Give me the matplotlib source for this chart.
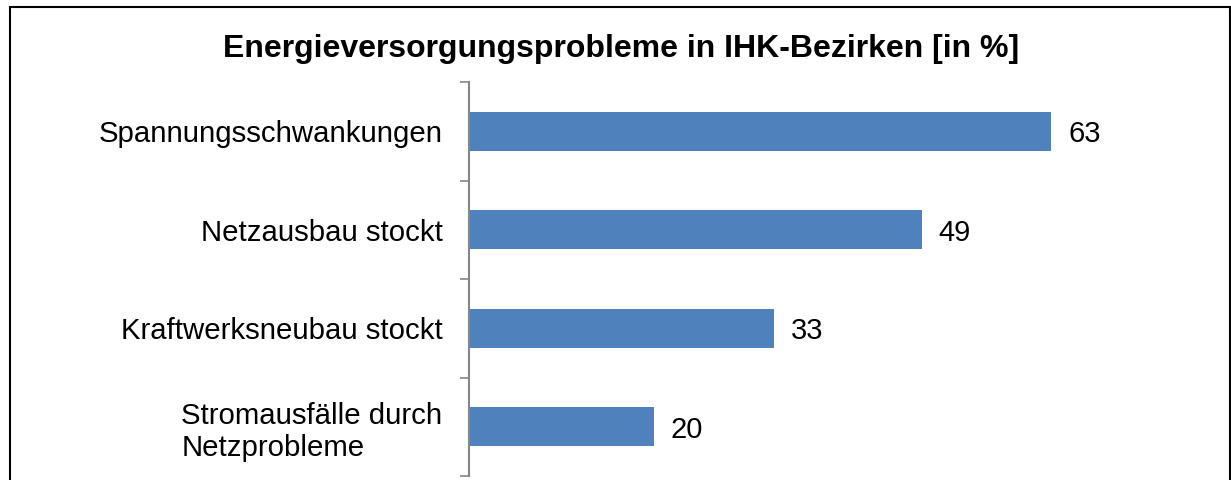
import numpy as np
import matplotlib
matplotlib.use("Agg")
import matplotlib.pyplot as plt
from matplotlib.patches import Rectangle

# data (top to bottom)
categories = ["Spannungsschwankungen", "Netzausbau stockt",
              "Kraftwerksneubau stockt", "Stromausfälle durch\nNetzprobleme"]
values = [63, 49, 33, 20]
title = "Energieversorgungsprobleme in IHK-Bezirken [in %]"

bar_color = "#4F81BD"
axis_color = "#868686"

plt.rcParams['font.family'] = ['Liberation Sans', 'DejaVu Sans']

fig = plt.figure(figsize=(12.31, 4.80), dpi=100)
W, H = 1231, 480

# axes placed in pixel coordinates of the reference
x0, x1 = 469, 469 + 70 * 9.24
y_top, y_bot = 82, 476
ax = fig.add_axes([x0 / W, (H - y_bot) / H, (x1 - x0) / W, (y_bot - y_top) / H])

pos = np.arange(len(categories))
ax.barh(pos, values, height=0.4, color=bar_color, zorder=2)
ax.set_xlim(0, 70)
ax.set_ylim(len(categories) - 0.5, -0.5)

for p, v in zip(pos, values):
    ax.text(v + 1.85, p, str(v), va='center_baseline', ha='left', fontsize=21)

# tick marks between categories, labels at the centers
ax.set_yticks(np.arange(-0.5, len(categories)), labels=[])
ax.set_yticks(pos, labels=categories, minor=True)
ax.tick_params(axis='y', which='major', length=6.5, width=1.2, color=axis_color, direction='out')
ax.tick_params(axis='y', which='minor', length=0, pad=19, labelsize=21.2)
for lab in ax.get_yticklabels(minor=True):
    lab.set_multialignment('left')

ax.set_xticks([])
for s in ['top', 'right', 'bottom']:
    ax.spines[s].set_visible(False)
ax.spines['left'].set_color(axis_color)
ax.spines['left'].set_linewidth(1.5)

fig.text(621 / W, 1 - 49 / H, title, ha='center', va='center',
         fontsize=23, fontweight='bold')

# outer frame of the chart area
fig.patches.append(Rectangle((10 / W, -0.02), (1230 - 10) / W, 1 - 7 / H + 0.02,
                             transform=fig.transFigure, fill=False,
                             edgecolor='black', linewidth=1.5))

fig.savefig("out.png", dpi=100)
